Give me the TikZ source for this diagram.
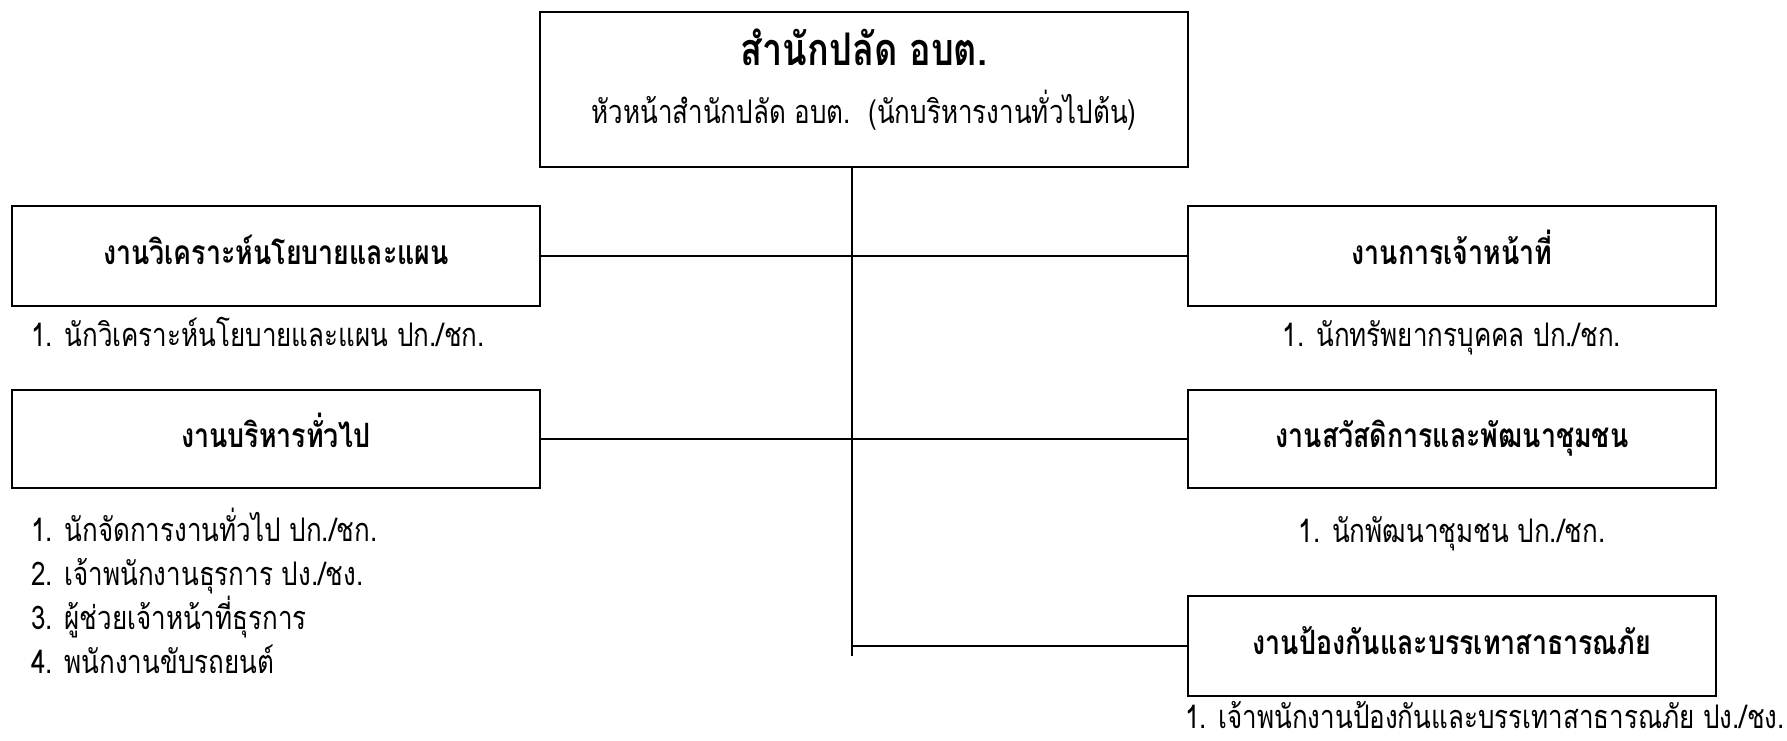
\documentclass[tikz,border=0pt]{standalone}
\usepackage{fontspec}
\newfontfamily\thaifont[Script=Thai,FakeStretch=0.8]{Loma}
\begin{document}
\begin{tikzpicture}[x=1pt,y=-1pt,
  box/.style={draw,line width=1.6pt,rectangle,inner sep=0pt},
  conn/.style={line width=1.6pt},
  boxtitle/.style={font=\thaifont\fontsize{33.5}{40}\selectfont\bfseries,text height=26pt,text depth=9pt},
  item/.style={font=\thaifont\fontsize{32.5}{39}\selectfont,inner sep=0pt,text height=25pt,text depth=9pt},
  itemleft/.style={item,anchor=west}]
\useasboundingbox (0,0) rectangle (1787,740);
% top box
\node[box,minimum width=648pt,minimum height=155pt] (top) at (864,89.5) {};
\node[font=\thaifont\fontsize{45}{54}\selectfont\bfseries,inner sep=0pt,text height=34pt,text depth=11pt] (toptitle) at (864,54) {สำนักปลัด อบต.};
\node[item] (topsub) at (864,115) {หัวหน้าสำนักปลัด อบต.\ \ (นักบริหารงานทั่วไปต้น)};
% left boxes
\node[box,minimum width=528pt,minimum height=100pt,boxtitle] (L1) at (276,256) {งานวิเคราะห์นโยบายและแผน};
\node[itemleft] (L1a) at (31,338) {1. นักวิเคราะห์นโยบายและแผน ปก./ชก.};
\node[box,minimum width=528pt,minimum height=98pt,boxtitle] (L2) at (276,439) {งานบริหารทั่วไป};
\node[itemleft] (L2a) at (31,533) {1. นักจัดการงานทั่วไป ปก./ชก.};
\node[itemleft] (L2b) at (31,577) {2. เจ้าพนักงานธุรการ ปง./ชง.};
\node[itemleft] (L2c) at (31,621) {3. ผู้ช่วยเจ้าหน้าที่ธุรการ};
\node[itemleft] (L2d) at (31,665) {4. พนักงานขับรถยนต์};
% right boxes
\node[box,minimum width=528pt,minimum height=100pt,boxtitle] (R1) at (1452,256) {งานการเจ้าหน้าที่};
\node[item] (R1a) at (1452,338) {1. นักทรัพยากรบุคคล ปก./ชก.};
\node[box,minimum width=528pt,minimum height=98pt,boxtitle] (R2) at (1452,439) {งานสวัสดิการและพัฒนาชุมชน};
\node[item] (R2a) at (1452,534) {1. นักพัฒนาชุมชน ปก./ชก.};
\node[box,minimum width=528pt,minimum height=100pt,boxtitle] (R3) at (1452,646) {งานป้องกันและบรรเทาสาธารณภัย};
\node[item] (R3a) at (1485,720) {1. เจ้าพนักงานป้องกันและบรรเทาสาธารณภัย ปง./ชง.};
% trunk
\coordinate (trunkx) at (852,0);
\coordinate (trunkend) at (852,656);
\draw[conn] (top.south -| trunkx) -- (trunkend);
\draw[conn] (L1.east) -- (L1.east -| trunkx);
\draw[conn] (L2.east) -- (L2.east -| trunkx);
\draw[conn] (R1.west) -- (R1.west -| trunkx);
\draw[conn] (R2.west) -- (R2.west -| trunkx);
\draw[conn] (R3.west) -- (R3.west -| trunkx);
\end{tikzpicture}
\end{document}
